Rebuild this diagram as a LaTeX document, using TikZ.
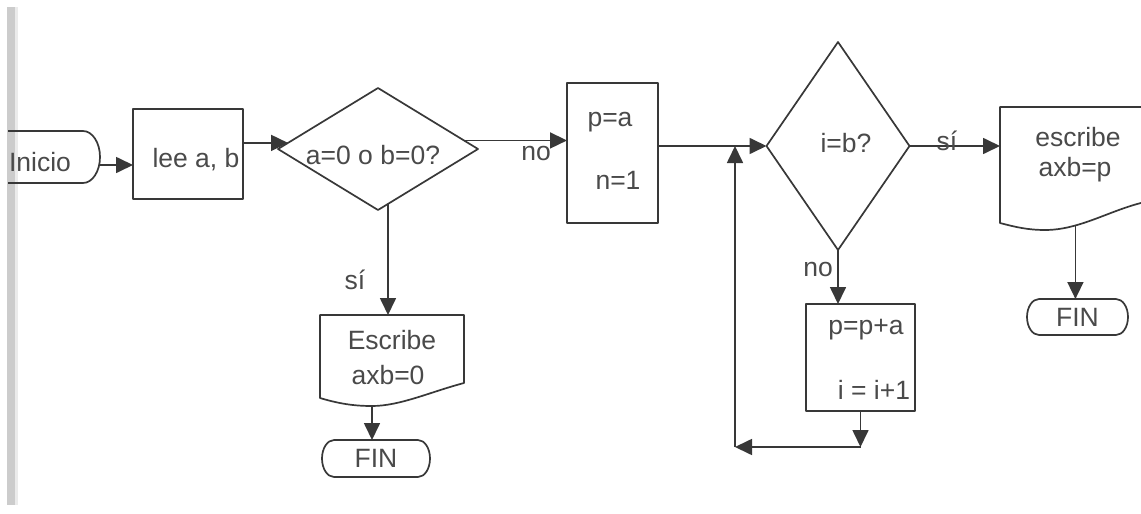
\documentclass[tikz,border=0pt]{standalone}
\usepackage{fontspec}
\setmainfont{Liberation Sans}
\usetikzlibrary{shapes.geometric,arrows.meta,calc}
\definecolor{ink}{HTML}{383838}
\definecolor{txt}{HTML}{4A4A4A}
\begin{document}
\begin{tikzpicture}[x=1pt,y=-1pt,
  every node/.style={font=\fontsize{26.5}{30}\selectfont, text=txt, inner sep=0pt, outer sep=0pt},
  outline/.style={draw=ink, line width=1.7pt, line join=round},
  frame/.style={outline, rectangle},
  dia/.style={outline, diamond},
  area/.style={rectangle},
  arr/.style={draw=ink, line width=1.7pt, -{Triangle[length=17pt,width=16pt]}}]

\useasboundingbox (0,0) rectangle (1141,514);
\clip (0,0) rectangle (1141,514);
\fill[white] (0,0) rectangle (1141,514);

% page edge strip
\fill[black!20] (7,7) rectangle (15,505);
\fill[black!8] (15,7) rectangle (18,505);

% --- start terminal
\node[area, minimum width=92pt, minimum height=52pt] (ini) at (54,157) {};
\draw[outline] (ini.north west) -- (83,131)
  arc[start angle=-90, end angle=90, x radius=17, y radius=26] -- (ini.south west);
\node (init) at (40,162) {Inicio};

% --- input
\node[frame, minimum width=110pt, minimum height=90pt] (lee) at (188,154) {};
\node (leet) at (196,160) {lee a, b};

% --- first decision
\node[dia, minimum width=200pt, minimum height=122pt] (d1) at (378,149) {};
\node (d1t) at (373,155) {a=0 o b=0?};

% --- initialisation
\node[frame, minimum width=91pt, minimum height=140pt] (pa) at (612.5,153) {};
\node (pat1) at (610,122) {p=a};
\node (pat2) at (618,180) {n=1};

% --- loop decision
\node[dia, minimum width=143pt, minimum height=208pt] (d2) at (838,146) {};
\node (d2t) at (846,143) {i=b?};

% --- loop body
\node[frame, minimum width=109pt, minimum height=107pt] (ppa) at (860.5,357.5) {};
\node (ppat1) at (866,330) {p=p+a};
\node (ppat2) at (874,390) {i = i+1};

% --- output axb=0
\node[area, minimum width=144pt, minimum height=83pt] (esc0) at (392,356.5) {};
\draw[outline] (esc0.south west) .. controls (340,404) and (355,406) .. (372,406)
  coordinate (esc0dip) .. controls (400,406) and (430,392) .. (esc0.south east |- 0,383)
  -- (esc0.north east) -- (esc0.north west) -- cycle;
\node (esc0t1) at (392,340) {Escribe};
\node (esc0t2) at (388,375) {axb=0};

% --- output axb=p
\node[area, minimum width=170pt, minimum height=116pt] (escp) at (1085,165) {};
\draw[outline] (escp.south west) .. controls (1015,227) and (1028,230) .. (1045,230)
  .. controls (1080,230) and (1110,210) .. (1145,202) coordinate[pos=0.3] (escpout)
  -- (escp.east |- 0,200) -- (escp.north east) -- (escp.north west) -- cycle;
\node (escpt1) at (1078,137) {escribe};
\node (escpt2) at (1075,170) {axb=p};

% --- end terminals
\node[area, minimum width=108pt, minimum height=37pt] (finl) at (376,458.5) {FIN};
\draw[outline] ([xshift=12pt]finl.north west) -- ([xshift=-12pt]finl.north east)
  arc[start angle=-90, end angle=90, x radius=12, y radius=18.5]
  -- ([xshift=12pt]finl.south west)
  arc[start angle=90, end angle=270, x radius=12, y radius=18.5] -- cycle;

\node[area, minimum width=101pt, minimum height=36pt] (finr) at (1077.5,317) {FIN};
\draw[outline] ([xshift=12pt]finr.north west) -- ([xshift=-12pt]finr.north east)
  arc[start angle=-90, end angle=90, x radius=12, y radius=18]
  -- ([xshift=12pt]finr.south west)
  arc[start angle=90, end angle=270, x radius=12, y radius=18] -- cycle;

% --- connectors
\coordinate (a1) at ([yshift=-8pt]ini.east);
\draw[arr] (a1) -- (a1 -| lee.west);

\coordinate (d1in) at ($(d1.west)!0.1!(d1.north)$);
\draw[arr] (d1in -| lee.east) -- (d1in);

\coordinate (d1out) at ($(d1.east)!0.14!(d1.north)$);
\draw[arr] (d1out) -- (d1out -| pa.west);
\node (no1) at (536,153) {no};

\coordinate (d1s) at ($(d1.south)!0.1!(d1.east)$);
\draw[arr] (d1s) -- (d1s |- esc0.north);
\node (si1) at (355,280) {sí};

\draw[arr] (esc0dip) -- (esc0dip |- finl.north);

\draw[arr] (pa.east |- d2.west) -- (d2.west);

\draw[arr] (d2.east) -- (d2.east -| escp.west);
\node (si2) at (947,141) {sí};

\draw[arr] (escpout) -- (escpout |- finr.north);

\draw[arr] (d2.south) -- (d2.south |- ppa.north);
\node (no2) at (818,269) {no};

\coordinate (l1) at (ppa.south |- 0,447);
\coordinate (l2) at (735,447);
\coordinate (l3) at (l2 |- d2.west);
\draw[arr] (ppa.south) -- (l1);
\draw[arr] (l1) -- (l2);
\draw[arr] (l2) -- (l3);

\end{tikzpicture}
\end{document}
